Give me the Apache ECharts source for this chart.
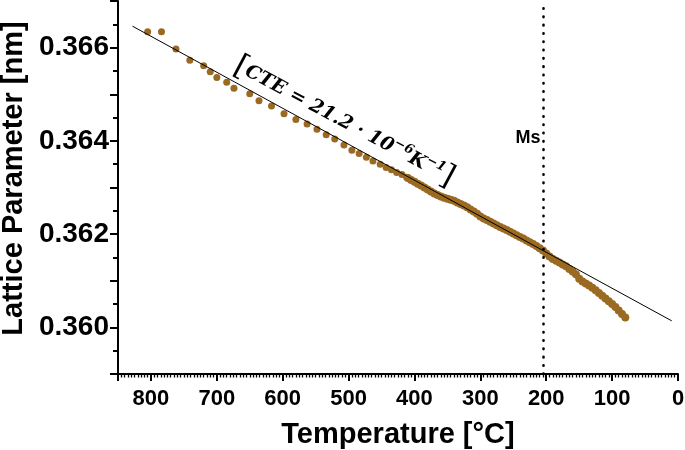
<!DOCTYPE html>
<html>
<head>
<meta charset="utf-8">
<script src="https://cdn.jsdelivr.net/npm/echarts@6/dist/echarts.min.js"></script>
<style>
  html, body { margin: 0; padding: 0; background: #fff; }
  #chart { width: 685px; height: 450px; }
</style>
</head>
<body>
<div id="chart"></div>
<script>
// measured lattice parameter, sparse high-temperature points then dense cooling part
const temps = [
  805, 784, 762, 741, 720, 710, 700, 685, 674, 650, 636, 617, 598, 580, 563,
  548, 534, 521, 507, 495, 484, 473, 463, 452, 443, 435, 427, 419, 412,
  410, 405, 400, 395, 390, 385, 380, 375, 370, 365, 360, 355, 350, 345, 340,
  335, 330, 325, 320, 315, 310, 305, 300, 295, 290, 285, 280, 275, 270, 265,
  260, 255, 250, 245, 240, 235, 230, 225, 220, 215, 210, 205, 200, 195, 190,
  185, 180, 175, 170, 165, 160, 155, 150, 145, 140, 135, 130, 125, 120, 115,
  110, 105, 100, 95, 90, 85, 80
];
const lattice = [
  0.36634, 0.36634, 0.36597, 0.36573, 0.36561, 0.36548, 0.36536, 0.36526, 0.36513, 0.36501,
  0.36486, 0.36475, 0.36458, 0.36446, 0.36436, 0.36425, 0.36413, 0.36404, 0.36391, 0.36380,
  0.36373, 0.36365, 0.36357, 0.36350, 0.36343, 0.36338, 0.36332, 0.36328, 0.36322,
  0.363204, 0.363163, 0.363122, 0.363081, 0.363041, 0.362998, 0.362955, 0.362912, 0.362873, 0.362841,
  0.362809, 0.362781, 0.362760, 0.362738, 0.362715, 0.362680, 0.362646, 0.362612, 0.362575, 0.362528,
  0.362483, 0.362438, 0.362380, 0.362335, 0.362301, 0.362264, 0.362226, 0.362189, 0.362153, 0.362121,
  0.362088, 0.362052, 0.362015, 0.361977, 0.361940, 0.361904, 0.361865, 0.361827, 0.361788, 0.361743,
  0.361698, 0.361647, 0.361584, 0.361522, 0.361469, 0.361428, 0.361389, 0.361349, 0.361310, 0.361254,
  0.361196, 0.361138, 0.361042, 0.360982, 0.360939, 0.360896, 0.360851, 0.360797, 0.360737, 0.360677,
  0.360619, 0.360559, 0.360501, 0.360435, 0.360364, 0.360289, 0.360210
];
const sparseCount = 29;
// linear fit (CTE line) end points
const fitTemps = [828, 9.5];
const fitParams = [0.36646, 0.36014];
// martensite start
const msTemp = 204;
const msLabelParam = 0.36407;
// CTE annotation anchor
const cteAnchor = [507, 0.36440];

const xTickLabels = [0, 100, 200, 300, 400, 500, 600, 700, 800];
const yTickLabels = [0.360, 0.362, 0.364, 0.366];

const font = "'Liberation Sans', Arial, sans-serif";
const brown = '#9b6a22';

let chart = echarts.init(document.getElementById('chart'));

let option = {
  animation: false,
  backgroundColor: '#fff',
  grid: { left: 118, right: 7, top: 1, bottom: 76, outerBoundsMode: 'none' },
  xAxis: {
    type: 'value',
    inverse: true,
    min: 0,
    max: 850,
    interval: 100,
    name: 'Temperature [°C]',
    nameLocation: 'middle',
    nameGap: 46,
    nameMoveOverlap: false,
    nameTextStyle: { fontFamily: font, fontWeight: 'bold', fontSize: 29, color: '#000' },
    axisLine: { onZero: false, lineStyle: { color: '#000', width: 2 } },
    axisTick: { length: 7, lineStyle: { color: '#000', width: 2 } },
    minorTick: { show: true, splitNumber: 20, length: 3.5, lineStyle: { color: '#000', width: 1.3 } },
    splitLine: { show: false },
    axisLabel: {
      margin: 14,
      fontFamily: font, fontWeight: 'bold', fontSize: 22, color: '#000',
      formatter: v => xTickLabels.includes(v) ? String(v) : ''
    }
  },
  yAxis: {
    type: 'value',
    position: 'left',
    min: 0.359,
    max: 0.367,
    interval: 0.001,
    name: 'Lattice Parameter [nm]',
    nameLocation: 'middle',
    nameGap: 90,
    nameMoveOverlap: false,
    nameTextStyle: { fontFamily: font, fontWeight: 'bold', fontSize: 29, color: '#000', padding: [0, 0, 0, 18] },
    axisLine: { onZero: false, lineStyle: { color: '#000', width: 2 } },
    axisTick: { length: 8, lineStyle: { color: '#000', width: 2 } },
    minorTick: { show: true, splitNumber: 2, length: 5, lineStyle: { color: '#000', width: 2 } },
    splitLine: { show: false },
    axisLabel: {
      margin: 9,
      fontFamily: font, fontWeight: 'bold', fontSize: 28, color: '#000',
      formatter: v => {
        let s = v.toFixed(3);
        return yTickLabels.some(t => t.toFixed(3) === s) ? s : '';
      }
    }
  },
  series: [
    {
      name: 'lattice',
      type: 'scatter',
      symbol: 'circle',
      symbolSize: (val, params) => params.dataIndex < sparseCount ? 7 : 8,
      itemStyle: { color: brown, opacity: 1 },
      data: temps.map((t, i) => [t, lattice[i]]),
      z: 2,
      markLine: {
        silent: true,
        symbol: ['none', 'none'],
        label: { show: false },
        lineStyle: { color: '#000', width: 2.6, type: [0.5, 7.8], cap: 'round', opacity: 1 },
        data: [{ xAxis: msTemp }]
      }
    },
    {
      name: 'fit',
      type: 'line',
      symbol: 'none',
      lineStyle: { color: '#000', width: 1 },
      data: fitTemps.map((t, i) => [t, fitParams[i]]),
      z: 3
    },
    {
      name: 'ms label',
      type: 'scatter',
      symbolSize: 0,
      itemStyle: { opacity: 1 },
      data: [[msTemp, msLabelParam]],
      label: {
        show: true, position: 'left', distance: 3, formatter: 'Ms',
        fontFamily: font, fontWeight: 'bold', fontSize: 18, color: '#000'
      },
      z: 4
    },
    {
      name: 'cte label',
      type: 'scatter',
      symbolSize: 0,
      itemStyle: { opacity: 1 },
      data: [cteAnchor],
      label: {
        show: true,
        position: 'inside',
        rotate: -28,
        formatter: '{b|[}{t|CTE = 21.2 · 10}{s|−6}{t|K}{s|−1}{b|]}',
        rich: {
          t: { fontFamily: "'DejaVu Serif', serif", fontStyle: 'italic', fontWeight: 'bold', fontSize: 19, color: '#000', lineHeight: 26, verticalAlign: 'middle' },
          s: { fontFamily: "'DejaVu Serif', serif", fontStyle: 'italic', fontWeight: 'bold', fontSize: 13, color: '#000', lineHeight: 14, verticalAlign: 'top' },
          b: { fontFamily: "'DejaVu Serif', serif", fontSize: 30, color: '#000', lineHeight: 26, verticalAlign: 'middle' }
        }
      },
      z: 4
    }
  ]
};
chart.setOption(option);
</script>
</body>
</html>
